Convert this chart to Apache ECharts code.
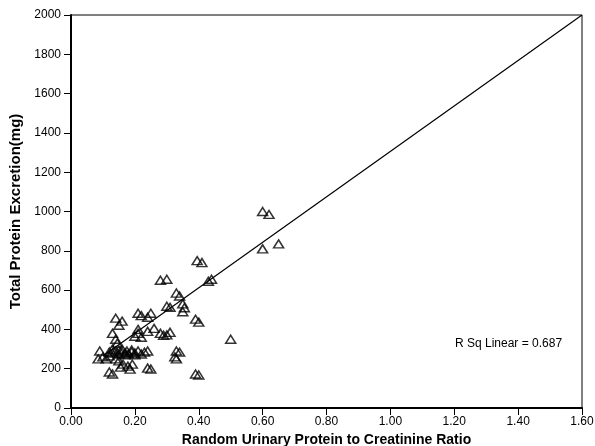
<!DOCTYPE html>
<html>
<head>
<meta charset="utf-8">
<script src="https://cdn.jsdelivr.net/npm/echarts@6/dist/echarts.min.js"></script>
<style>html,body{margin:0;padding:0;background:#fff}#c{width:595px;height:446px}</style>
</head>
<body>
<div id="c"></div>
<script>
const xTicks = [0, 0.2, 0.4, 0.6, 0.8, 1.0, 1.2, 1.4, 1.6];
const yTicks = [0, 200, 400, 600, 800, 1000, 1200, 1400, 1600, 1800, 2000];
const ratio = [0.60,0.62,0.60,0.65,0.395,0.41,0.43,0.44,0.28,0.30,0.33,0.34,0.30,0.31,0.35,0.355,0.35,
  0.21,0.25,0.24,0.22,0.14,0.16,0.15,0.39,0.40,0.50,0.21,0.21,0.20,0.22,0.26,0.24,0.28,0.29,0.31,0.30,
  0.13,0.14,0.145,0.09,0.10,0.085,0.11,0.33,0.34,0.325,0.33,0.24,0.23,
  0.13,0.14,0.15,0.16,0.17,0.175,0.18,0.19,0.20,0.21,0.22,0.19,0.17,0.15,0.20,0.16,0.12,
  0.155,0.163,0.178,0.185,0.192,0.24,0.25,0.12,0.13,0.39,0.40,0.13,0.14,0.15,0.12];
const protein = [1000,985,810,835,750,740,645,655,650,655,585,570,518,512,530,510,490,
  482,482,462,470,457,442,421,452,437,350,400,380,365,360,405,390,380,370,385,372,
  380,350,330,290,260,250,250,290,284,260,250,290,284,
  280,290,275,285,280,290,275,285,280,290,275,295,270,295,270,300,285,
  208,223,213,198,223,203,198,183,173,173,168,300,250,240,265];
const fitX = [0.10, 1.60];
const fitY = [265, 2000];
const rSqText = 'R Sq Linear = 0.687';

const pts = ratio.map((x, i) => [x, protein[i]]);
const fit = fitX.map((x, i) => [x, fitY[i]]);

const chart = echarts.init(document.getElementById('c'));
const font = 'Liberation Sans, Arial, sans-serif';
chart.setOption({
  animation: false,
  grid: { left: 71, right: 13, top: 15, bottom: 38, containLabel: false, outerBoundsMode: 'none',
    show: true, borderColor: '#000', borderWidth: 1 },
  xAxis: {
    type: 'value', min: 0, max: 1.6, interval: 0.2,
    name: 'Random Urinary Protein to Creatinine Ratio', nameLocation: 'middle', nameGap: 17,
    nameTextStyle: { fontFamily: font, fontWeight: 'bold', fontSize: 14, color: '#000' },
    axisLine: { show: true, lineStyle: { color: '#000', width: 2 } },
    axisTick: { show: true, length: 7, lineStyle: { color: '#000', width: 1 } },
    axisLabel: { fontFamily: font, fontSize: 12, color: '#000', margin: 8, formatter: v => v.toFixed(2) },
    splitLine: { show: false }
  },
  yAxis: {
    type: 'value', min: 0, max: 2000, interval: 200,
    name: 'Total Protein Excretion(mg)', nameLocation: 'middle', nameGap: 45,
    nameTextStyle: { fontFamily: font, fontWeight: 'bold', fontSize: 15, color: '#000' },
    axisLine: { show: true, lineStyle: { color: '#000', width: 2 } },
    axisTick: { show: true, length: 7, lineStyle: { color: '#000', width: 1 } },
    axisLabel: { fontFamily: font, fontSize: 12, color: '#000', margin: 10, formatter: v => String(v) },
    splitLine: { show: false }
  },
  graphic: [{ type: 'text', left: 455, top: 338, style: { text: rSqText, font: '12px ' + font, fill: '#000' } }],
  series: [
    { type: 'line', data: fit, symbol: 'none', lineStyle: { color: '#000', width: 1.2 }, z: 1 },
    { type: 'scatter', data: pts, symbol: 'triangle', symbolSize: [10, 8],
      itemStyle: { color: 'rgba(0,0,0,0)', borderColor: '#000', borderWidth: 1.5 }, z: 2 }
  ]
});
</script>
</body>
</html>
